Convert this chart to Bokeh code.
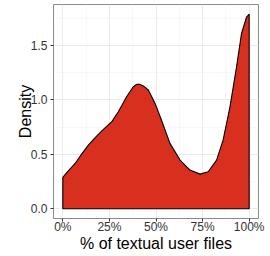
from bokeh.plotting import figure
from bokeh.models import Range1d, FixedTicker
from bokeh.embed import file_html
from bokeh.resources import INLINE

# Data (x in fraction of textual user files)
x_frac = [0.0, 0.02, 0.066, 0.10, 0.137, 0.175, 0.209, 0.263, 0.298, 0.343, 0.378, 0.395, 0.410,
          0.43, 0.459, 0.495, 0.530, 0.575, 0.629, 0.682, 0.736, 0.780, 0.825,
          0.860, 0.897, 0.932, 0.959, 0.986, 1.0]
density = [0.288, 0.33, 0.416, 0.50, 0.584, 0.655, 0.715, 0.80, 0.89, 1.03, 1.12, 1.14, 1.144,
           1.13, 1.09, 0.967, 0.81, 0.60, 0.447, 0.355, 0.318, 0.34, 0.447,
           0.63, 0.936, 1.30, 1.61, 1.76, 1.786]
x_ticks = [0.0, 0.25, 0.5, 0.75, 1.0]
x_tick_labels = ["0%", "25%", "50%", "75%", "100%"]
y_ticks = [0.0, 0.5, 1.0, 1.5]
y_tick_labels = ["0.0", "0.5", "1.0", "1.5"]

p = figure(width=270, height=256, output_backend="svg", toolbar_location=None,
           x_range=Range1d(-0.05, 1.05), y_range=Range1d(-0.0893, 1.875),
           min_border_left=53, min_border_right=12, min_border_top=4, min_border_bottom=38)

px = [x_frac[0]] + x_frac + [x_frac[-1]]
py = [0.0] + density + [0.0]
p.patch(px, py, fill_color="#D7301F", line_color="black", line_width=1.1)

p.outline_line_color = "#8a8a8a"
p.outline_line_width = 1
p.background_fill_color = "white"
p.border_fill_color = "white"

p.xaxis.ticker = FixedTicker(ticks=x_ticks, minor_ticks=[-0.125, 0.125, 0.375, 0.625, 0.875, 1.125])
p.yaxis.ticker = FixedTicker(ticks=y_ticks, minor_ticks=[0.25, 0.75, 1.25, 1.75])
p.xaxis.major_label_overrides = dict(zip(x_ticks, x_tick_labels))
p.yaxis.major_label_overrides = dict(zip(y_ticks, y_tick_labels))

for ax in (p.xaxis, p.yaxis):
    ax.axis_line_color = None
    ax.major_tick_in = 0
    ax.major_tick_out = 3
    ax.major_tick_line_color = "#333333"
    ax.minor_tick_line_color = None
    ax.major_label_text_font = "Liberation Sans"
    ax.major_label_text_font_size = "12px"
    ax.major_label_text_color = "#333333"
    ax.axis_label_text_font = "Liberation Sans"
    ax.axis_label_text_font_size = "16px"
    ax.axis_label_text_font_style = "normal"
    ax.axis_label_text_color = "black"

p.xaxis.major_label_standoff = -3
p.yaxis.major_label_standoff = 2
p.xaxis.axis_label = "% of textual user files"
p.yaxis.axis_label = "Density"
p.xaxis.axis_label_standoff = -2
p.yaxis.axis_label_standoff = -6

for g in (p.xgrid, p.ygrid):
    g.grid_line_color = "#ebebeb"
    g.grid_line_width = 1
    g.minor_grid_line_color = "#f4f4f4"
    g.minor_grid_line_width = 0.6

open("out.html", "w").write(file_html(p, INLINE))
